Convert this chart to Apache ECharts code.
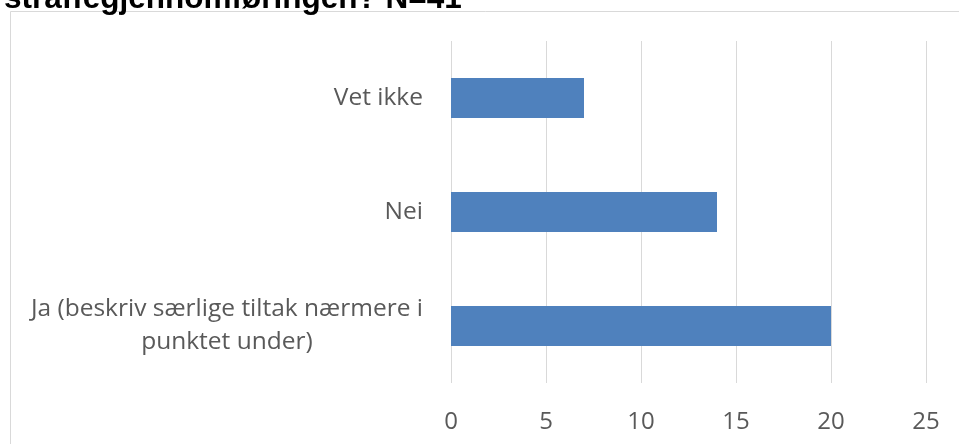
<!DOCTYPE html>
<html>
<head>
<meta charset="utf-8">
<script src="https://cdn.jsdelivr.net/npm/echarts@6/dist/echarts.min.js"></script>
<style>
html, body { margin: 0; padding: 0; background: #fff; }
#main { width: 959px; height: 444px; }
</style>
</head>
<body>
<div id="main"></div>
<script>
// bottom to top, as on the picture
var categories = ['Ja (beskriv særlige tiltak nærmere i\npunktet under)', 'Nei', 'Vet ikke'];
var counts = [20, 14, 7];
var titleText = 'straffegjennomføringen? N=41';

var chart = echarts.init(document.getElementById('main'));

var option = {
    backgroundColor: '#fff',
    animation: false,
    title: {
        text: titleText,
        left: -1,
        top: -22,
        textStyle: {
            fontFamily: 'Liberation Sans',
            fontWeight: 'bold',
            fontSize: 31.5,
            color: '#000'
        }
    },
    graphic: [{
        type: 'rect',
        shape: { x: 10.5, y: 11.5, width: 1000, height: 500 },
        style: { fill: 'none', stroke: '#d9d9d9', lineWidth: 1 },
        z: -1
    }],
    grid: {
        left: 451,
        right: 33,
        top: 41,
        bottom: 61
    },
    xAxis: {
        type: 'value',
        min: 0,
        max: 25,
        interval: 5,
        axisLine: { show: false },
        axisTick: { show: false },
        splitLine: { lineStyle: { color: '#d9d9d9', width: 1 } },
        axisLabel: {
            margin: 27,
            fontFamily: 'Open Sans',
            fontSize: 24,
            color: '#595959'
        }
    },
    yAxis: {
        type: 'category',
        data: categories,
        axisLine: { show: false },
        axisTick: { show: false },
        axisLabel: {
            margin: 28,
            fontFamily: 'Open Sans',
            fontSize: 24.5,
            lineHeight: 33,
            color: '#595959',
            formatter: function (value) {
                return value.split('\n').map(function (s) {
                    return '{c|' + s + '}';
                }).join('\n');
            },
            rich: {
                c: {
                    align: 'center',
                    fontFamily: 'Open Sans',
                    fontSize: 24.5,
                    lineHeight: 33,
                    color: '#595959'
                }
            }
        }
    },
    series: [{
        type: 'bar',
        data: counts,
        barWidth: 40,
        itemStyle: { color: '#4f81bd' }
    }]
};

chart.setOption(option);
</script>
</body>
</html>
